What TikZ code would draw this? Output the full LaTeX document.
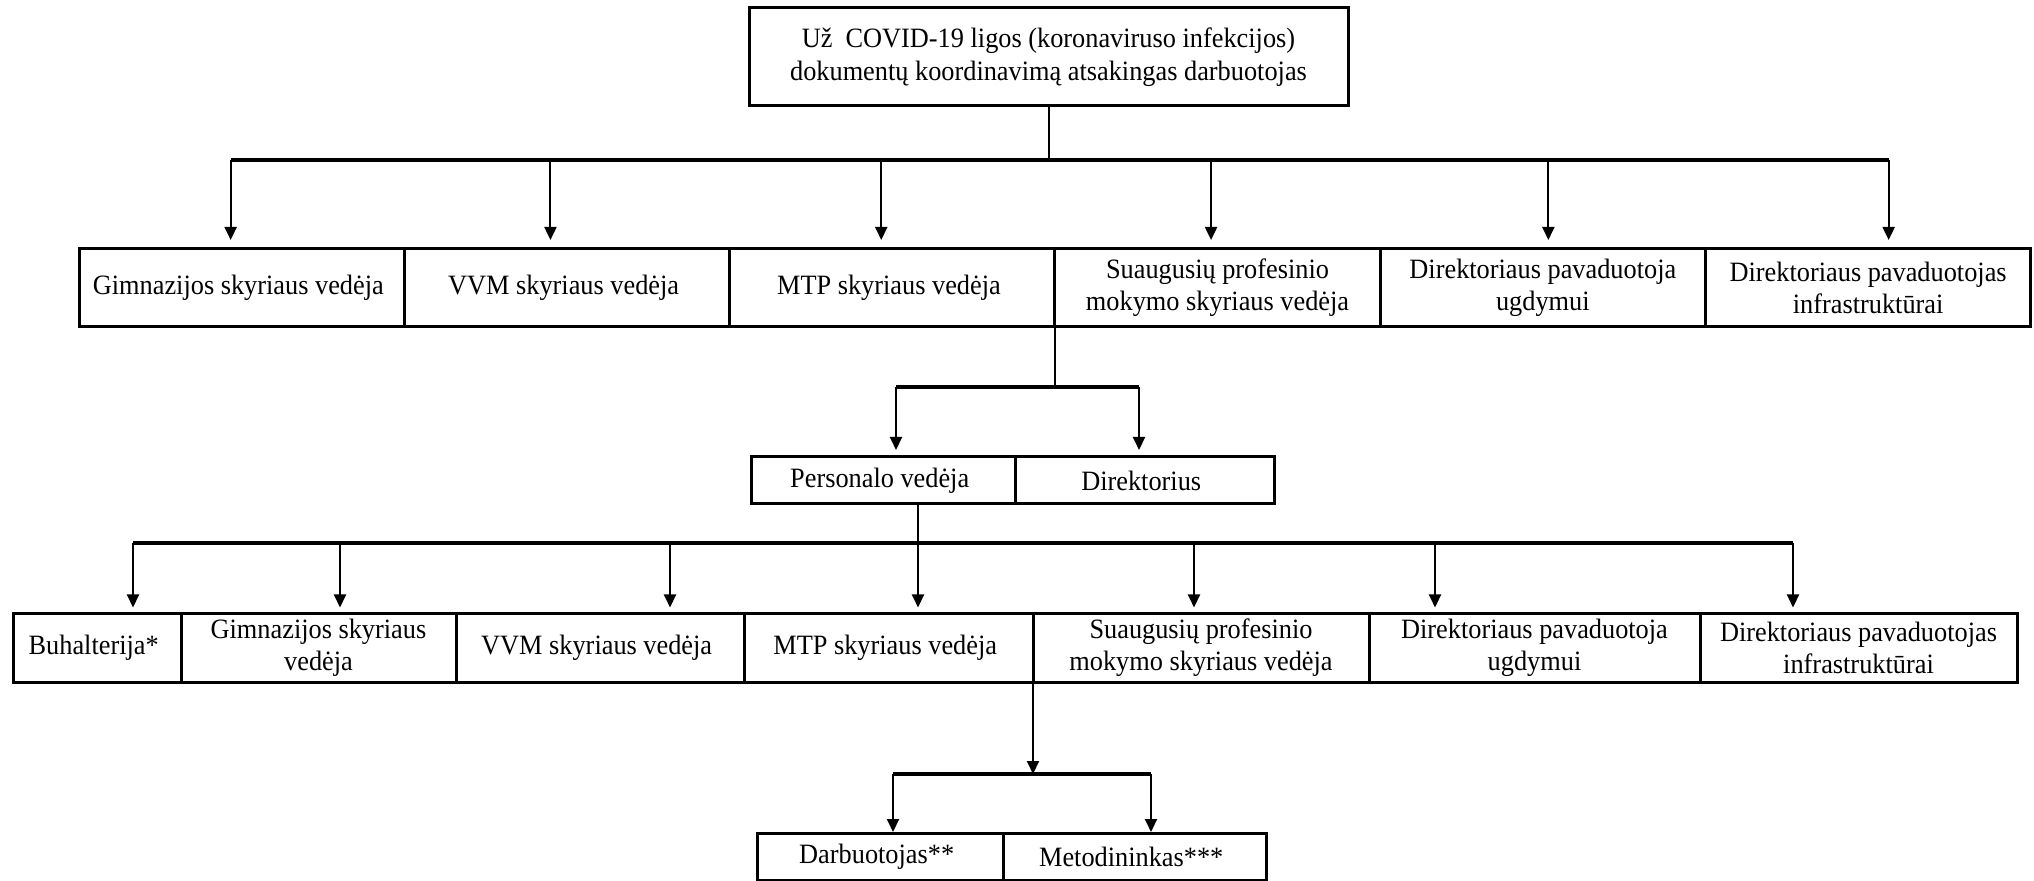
\documentclass[tikz,border=0pt]{standalone}
\usepackage{fontspec}
\setmainfont[FakeStretch=0.94]{Liberation Serif}
\usepackage{tikz}
\usetikzlibrary{positioning,arrows.meta}
\tikzstyle{boss}=[rectangle, draw=black, line width=1.5pt, text centered, align=center, inner sep=0pt, outer sep=0pt, minimum width=299.5pt, minimum height=49pt, font=\fontsize{14pt}{16.5pt}\selectfont]
\tikzstyle{unit}=[rectangle, draw=black, line width=1.5pt, text centered, align=center, inner sep=0pt, outer sep=0pt, minimum width=162.65pt, minimum height=39pt, font=\fontsize{14pt}{16pt}\selectfont]
\tikzstyle{pair}=[unit, minimum height=23.5pt]
\tikzstyle{staff}=[unit, minimum height=34.5pt]
\tikzstyle{link}=[line width=1pt]
\tikzstyle{bus}=[line width=1.6pt]
\tikzstyle{arr}=[line width=1pt, -{Triangle[length=6.5pt,width=6pt]}]

\begin{document}
\begin{tikzpicture}[x=0.5pt,y=-0.5pt]
    \useasboundingbox (0,0) rectangle (2034,881);
        \node(coordinator)[boss] at (1048.5,57) {
            Už~~COVID-19 ligos (koronaviruso infekcijos)\\dokumentų koordinavimą atsakingas darbuotojas
        };
        \node(gym)[unit, anchor=west] at (79,288) {
            Gimnazijos skyriaus vedėja
        };
        \node(vvm)[unit, right=0pt of gym] {
            VVM skyriaus vedėja
        };
        \node(mtp)[unit, right=0pt of vvm] {
            MTP skyriaus vedėja
        };
        \node(adult)[unit, right=0pt of mtp] {
            Suaugusių profesinio\\mokymo skyriaus vedėja
        };
        \node(deputy)[unit, right=0pt of adult] {
            Direktoriaus pavaduotoja\\ugdymui
        };
        \node(infra)[unit, right=0pt of deputy] {
            Direktoriaus pavaduotojas\\infrastruktūrai
        };
        \node(personnel)[pair, anchor=west, minimum width=132pt] at (751,480.5) {
            Personalo vedėja
        };
        \node(director)[pair, right=0pt of personnel, minimum width=129.5pt] {
            Direktorius
        };
        \node(accounts)[staff, anchor=west, minimum width=84pt] at (13,647.5) {
            Buhalterija*
        };
        \node(gymB)[staff, right=0pt of accounts, minimum width=137.5pt] {
            Gimnazijos skyriaus\\vedėja
        };
        \node(vvmB)[staff, right=0pt of gymB, minimum width=144pt] {
            VVM skyriaus vedėja
        };
        \node(mtpB)[staff, right=0pt of vvmB, minimum width=144.5pt] {
            MTP skyriaus vedėja
        };
        \node(adultB)[staff, right=0pt of mtpB, minimum width=168pt] {
            Suaugusių profesinio\\mokymo skyriaus vedėja
        };
        \node(deputyB)[staff, right=0pt of adultB, minimum width=165.5pt] {
            Direktoriaus pavaduotoja\\ugdymui
        };
        \node(infraB)[staff, right=0pt of deputyB, minimum width=158.5pt] {
            Direktoriaus pavaduotojas\\infrastruktūrai
        };
        \node(worker)[pair, anchor=west, minimum width=123pt] at (757,856.5) {
            Darbuotojas**
        };
        \node(methodist)[pair, right=0pt of worker, minimum width=131.5pt] {
            Metodininkas***
        };

        \coordinate(busA) at (0,160);
        \coordinate(busB) at (0,387);
        \coordinate(busC) at (0,543);
        \coordinate(busD) at (0,774);

        \draw[link] (coordinator.south) -- (coordinator.south |- busA);
        \draw[bus] ([xshift=-5.5pt]gym.north |- busA) -- ([xshift=10.25pt]infra.north |- busA);
        \foreach \n/\dx in {gym/-5.5pt, vvm/-8.25pt, mtp/-5.5pt, adult/-3.25pt, deputy/2.75pt, infra/10.25pt}
            \draw[arr] ([xshift=\dx]\n.north |- busA) -- ([xshift=\dx, yshift=4.5pt]\n.north);

        \draw[link] (mtp.south east) -- (mtp.south east |- busB);
        \draw[bus] ([xshift=6.5pt]personnel.north |- busB) -- ([xshift=-2.75pt]director.north |- busB);
        \foreach \n/\dx in {personnel/6.5pt, director/-2.75pt}
            \draw[arr] ([xshift=\dx]\n.north |- busB) -- ([xshift=\dx, yshift=3.5pt]\n.north);

        \draw[link] ([xshift=14.75pt]mtpB.north |- personnel.south) -- ([xshift=14.75pt]mtpB.north |- busC);
        \draw[bus] ([xshift=18pt]accounts.north |- busC) -- ([xshift=-32.75pt]infraB.north |- busC);
        \foreach \n/\dx in {accounts/18pt, gymB/10.75pt, vvmB/35pt, mtpB/14.75pt, adultB/-3.5pt, deputyB/-49.75pt, infraB/-32.75pt}
            \draw[arr] ([xshift=\dx]\n.north |- busC) -- ([xshift=\dx, yshift=2.75pt]\n.north);

        \draw[arr] (mtpB.south east) -- (mtpB.south east |- busD);
        \draw[bus] ([xshift=6.5pt]worker.north |- busD) -- ([xshift=8.25pt]methodist.north |- busD);
        \foreach \n/\dx in {worker/6.5pt, methodist/8.25pt}
            \draw[arr] ([xshift=\dx]\n.north |- busD) -- ([xshift=\dx, yshift=0.5pt]\n.north);
\end{tikzpicture}
\end{document}
